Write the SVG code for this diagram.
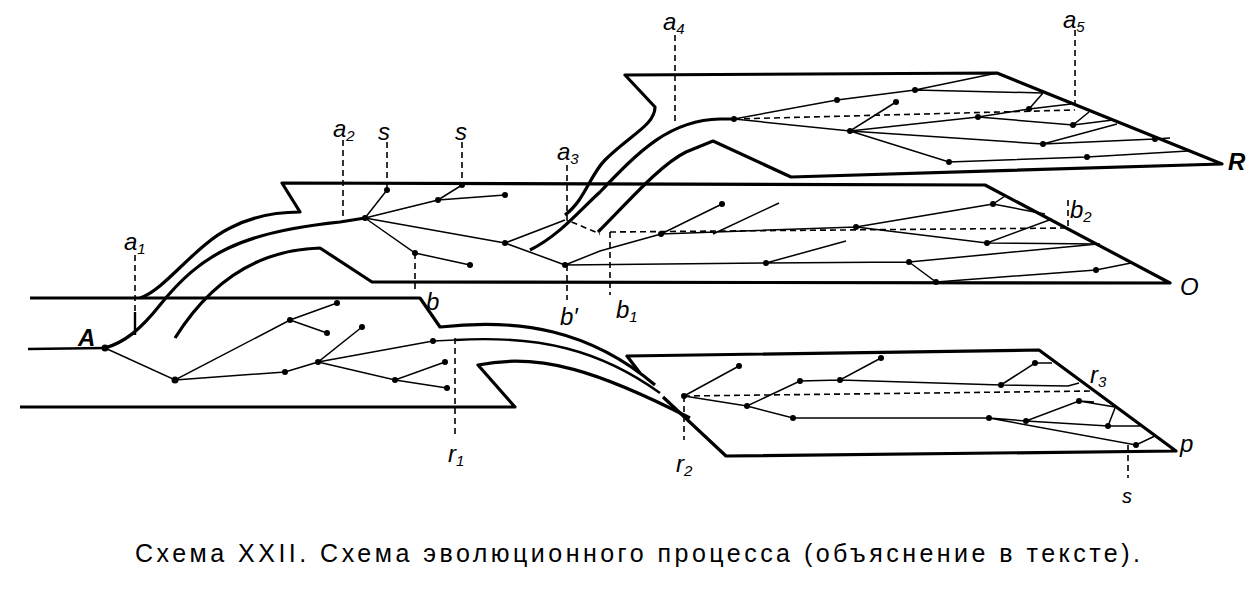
<svg xmlns="http://www.w3.org/2000/svg" width="1250" height="600" viewBox="0 0 1250 600">
<style>
.t{fill:none;stroke:#000;stroke-width:3.2;stroke-linejoin:round}
.m{fill:none;stroke:#000;stroke-width:2.4}
.l{fill:none;stroke:#000;stroke-width:1.5}
.d{fill:none;stroke:#000;stroke-width:1.6;stroke-dasharray:6 4}
.lb{font-family:"Liberation Sans",sans-serif;font-style:italic;font-size:24px}
.sb{font-size:15px}
.cap{font-family:"Liberation Sans",sans-serif;font-size:25px}
</style>
<rect width="1250" height="600" fill="#fff"/>
<g id="planes">
<path class="t" d="M30,298 L420,298 L440,327 C520,318 590,330 655,385"/>
<path class="t" d="M20,407 L515,407 L478,365 C540,352 600,372 690,418"/>
<path class="m" d="M28,349 L105,348"/>
<path class="t" d="M140,298 C165,290 195,245 230,228 C255,215 280,212 300,212 L282,183 L985,185 L1170,283 L372,282 L320,248 C250,250 205,290 175,338"/>
<path class="t" d="M105,348 C125,342 140,330 160,305 C200,255 240,232 340,222 L365,218"/>
<path class="t" d="M565,215 C585,200 590,175 605,160 C630,135 655,125 655,107 L625,75 L997,73 L1222,164 L791,177 L713,141 L686,152 C660,165 630,200 598,232"/>
<path class="t" d="M530,250 C560,235 580,210 600,192 C640,150 670,120 720,119 L734,119"/>
<path class="t" d="M640,373 L627,356 L1039,350 L1176,451 L726,456 L663,397"/>
<path class="m" d="M455,340 C540,335 600,350 660,393"/>
</g>
<g id="connectors">
<path class="d" d="M135,255 V312 M343,140 V218 M387,142 V190 M462,142 V185 M415,253 V290 M567,165 V220 L600,234 M610,232 L1068,228 M1068,200 V228 M610,232 V295 M567,265 V300 M675,35 V122 M1075,30 V110 M734,119 L1075,110 M455,338 V435 M684,396 L1092,391 M684,396 V440 M1128,445 V478"/>
<path class="m" d="M135,312 V335"/>
<path class="l" d="M365,218 L387,190 M365,218 L438,200 L462,185 M438,200 L505,195 M365,218 L505,243 L565,265 M505,243 L565,220 M365,218 L415,253 L470,265
M565,265 L600,251 L661,234 L722,204 M713,234 L779,203 M661,234 L856,227 L993,204 L1005,196 M993,204 L1045,214 M856,227 L987,243 L1052,219 M987,243 L1100,244
M565,265 L766,263 L846,241 M766,263 L909,262 L1098,244 M909,262 L936,282 L1096,270 L1131,263
M734,119 L837,100 L915,90 L997,73 M915,90 L1043,93 M734,119 L850,131 L896,102 M850,131 L978,117 L1029,109 L1071,104 M1029,109 L1043,93 M978,117 L1073,125 L1089,112 M1073,125 L1113,120 M850,131 L1043,144 L1117,124 M1043,144 L1155,139 L1170,138 M850,131 L949,162 L1087,157 L1188,151
M684,396 L739,366 M684,396 L747,406 L800,381 L840,380 L881,358 M840,380 L1001,385 L1035,363 L1052,363 M1001,385 L1068,386 L1079,383 M747,406 L793,418 L989,418 L1026,421 L1079,401 L1094,402 M1079,401 L1115,407 M1026,421 L1108,426 L1115,408 M1108,426 L1140,426 M989,418 L1136,445 L1155,436
M105,348 L175,380 L290,320 L337,303 M290,320 L327,333 M175,380 L285,372 L318,362 L362,327 M318,362 L433,341 L455,340 M318,362 L395,380 L445,362 M395,380 L447,388"/>
</g>
<g id="nodes" fill="#000">
<circle cx="105" cy="348" r="3.5"/><circle cx="175" cy="380" r="3.5"/><circle cx="290" cy="320" r="3"/><circle cx="337" cy="303" r="3"/><circle cx="327" cy="333" r="3"/><circle cx="285" cy="372" r="3"/><circle cx="318" cy="362" r="3"/><circle cx="362" cy="327" r="3"/><circle cx="433" cy="341" r="3"/><circle cx="395" cy="380" r="3"/><circle cx="445" cy="362" r="3"/><circle cx="447" cy="388" r="3"/>
<circle cx="365" cy="218" r="3"/><circle cx="387" cy="190" r="3"/><circle cx="438" cy="200" r="3"/><circle cx="462" cy="185" r="3"/><circle cx="505" cy="195" r="3"/><circle cx="505" cy="243" r="3"/><circle cx="565" cy="265" r="3"/><circle cx="415" cy="253" r="3"/><circle cx="470" cy="265" r="3"/>
<circle cx="661" cy="234" r="3"/><circle cx="722" cy="204" r="3"/><circle cx="856" cy="227" r="3"/><circle cx="993" cy="204" r="3"/><circle cx="987" cy="243" r="3"/><circle cx="766" cy="263" r="3"/><circle cx="909" cy="262" r="3"/><circle cx="936" cy="282" r="3"/><circle cx="1096" cy="270" r="3"/>
<circle cx="734" cy="119" r="3"/><circle cx="837" cy="100" r="3"/><circle cx="915" cy="90" r="3"/><circle cx="850" cy="131" r="3"/><circle cx="896" cy="102" r="3"/><circle cx="978" cy="117" r="3"/><circle cx="1029" cy="109" r="3"/><circle cx="1073" cy="125" r="3"/><circle cx="1043" cy="144" r="3"/><circle cx="1155" cy="139" r="3"/><circle cx="949" cy="162" r="3"/><circle cx="1087" cy="157" r="3"/>
<circle cx="684" cy="396" r="3"/><circle cx="739" cy="366" r="3"/><circle cx="747" cy="406" r="3"/><circle cx="800" cy="381" r="3"/><circle cx="840" cy="380" r="3"/><circle cx="881" cy="358" r="3"/><circle cx="1001" cy="385" r="3"/><circle cx="1035" cy="363" r="3"/><circle cx="793" cy="418" r="3"/><circle cx="989" cy="418" r="3"/><circle cx="1026" cy="421" r="3"/><circle cx="1079" cy="401" r="3"/><circle cx="1108" cy="426" r="3"/><circle cx="1136" cy="445" r="3"/>
</g>
<g id="labels" class="lb">
<text x="78" y="346" font-weight="bold">A</text>
<text x="124" y="250">a<tspan class="sb" dy="4">1</tspan></text>
<text x="333" y="137">a<tspan class="sb" dy="4">2</tspan></text>
<text x="557" y="160">a<tspan class="sb" dy="4">3</tspan></text>
<text x="663" y="30">a<tspan class="sb" dy="4">4</tspan></text>
<text x="1063" y="28">a<tspan class="sb" dy="4">5</tspan></text>
<text x="378" y="140">s</text><text x="455" y="140">s</text>
<text x="426" y="310">b</text><text x="560" y="325">b′</text>
<text x="616" y="318">b<tspan class="sb" dy="4">1</tspan></text>
<text x="1070" y="218">b<tspan class="sb" dy="4">2</tspan></text>
<text x="1228" y="170" font-weight="bold">R</text>
<text x="1180" y="295">O</text>
<text x="448" y="462">r<tspan class="sb" dy="4">1</tspan></text>
<text x="676" y="472">r<tspan class="sb" dy="4">2</tspan></text>
<text x="1090" y="383">r<tspan class="sb" dy="4">3</tspan></text>
<text x="1180" y="452">p</text>
<text x="1122" y="503" font-size="20">s</text>
</g>
<text class="cap" x="135" y="562" textLength="1005" lengthAdjust="spacing">Схема XXII. Схема эволюционного процесса  (объяснение в тексте).</text>
</svg>
